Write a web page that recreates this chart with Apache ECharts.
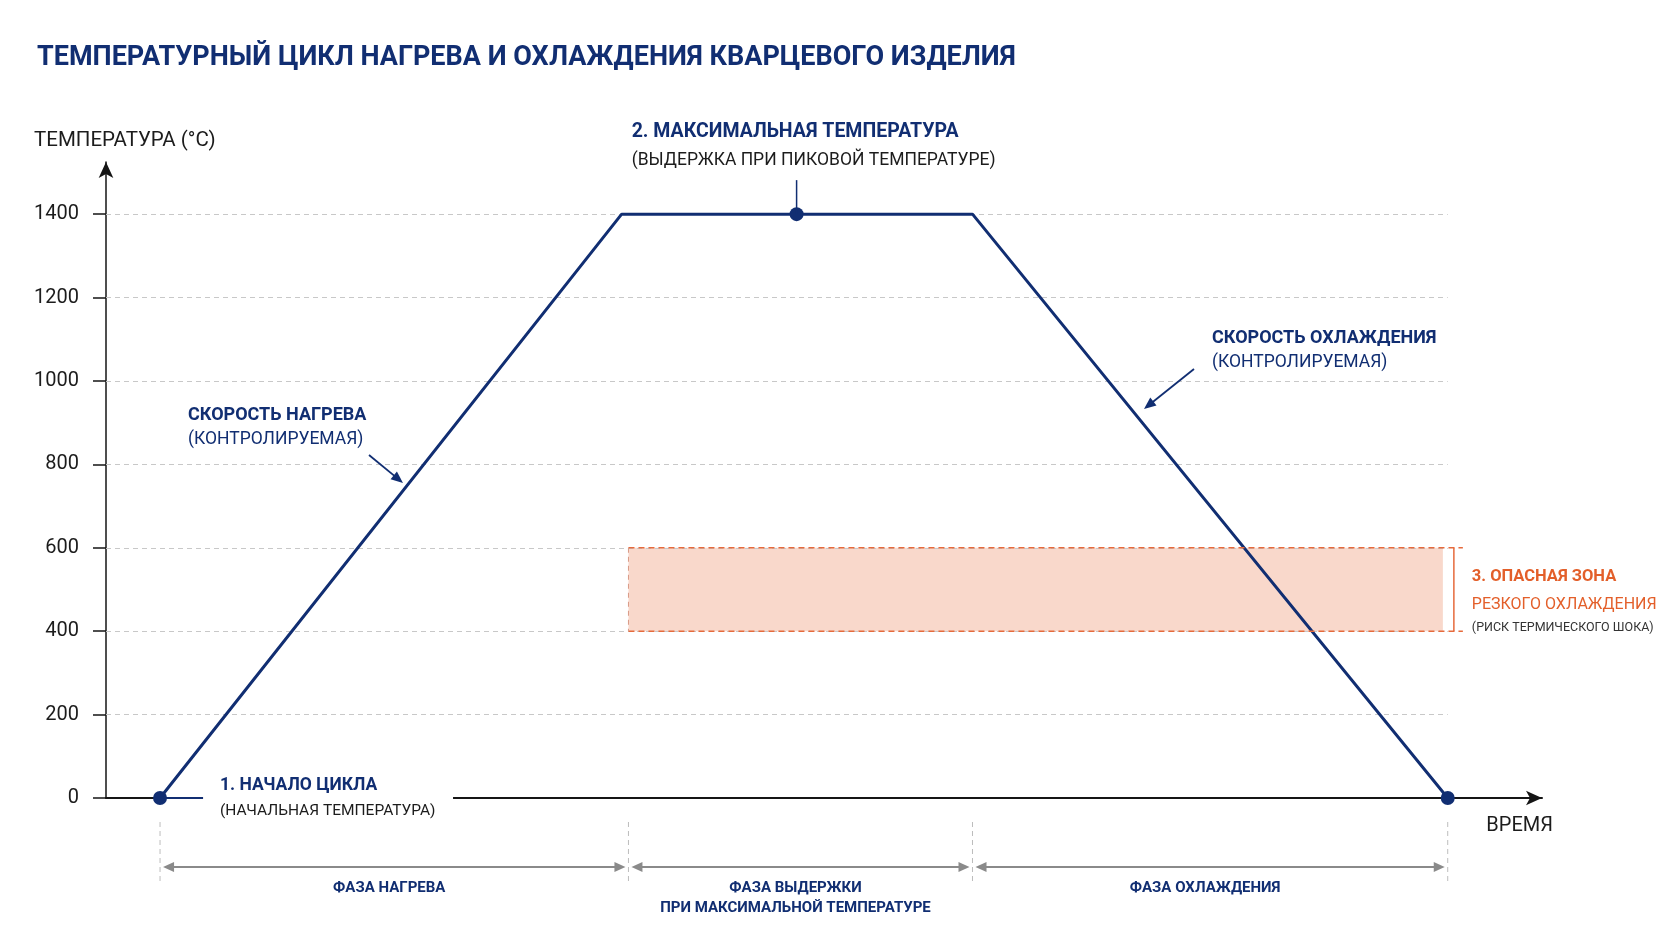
<!DOCTYPE html>
<html>
<head>
<meta charset="utf-8">
<script src="https://cdn.jsdelivr.net/npm/echarts@6/dist/echarts.min.js"></script>
<style>
  html, body { margin: 0; background: #fff; }
  #chart { width: 1672px; height: 941px; }
</style>
</head>
<body>
<div id="chart"></div>
<script>
// температурный цикл кварцевого изделия
const times = [0, 4.75, 6.55, 8.36, 13.25];
const temps = [0, 1400, 1400, 1400, 0];
const dotAt = [true, false, true, false, true];
const yTicks = [0, 200, 400, 600, 800, 1000, 1200, 1400];
const phaseBounds = [0, 4.82, 8.36, 13.25];
const phaseNames = ['ФАЗА НАГРЕВА', 'ФАЗА ВЫДЕРЖКИ\nПРИ МАКСИМАЛЬНОЙ ТЕМПЕРАТУРЕ', 'ФАЗА ОХЛАЖДЕНИЯ'];
const dangerTemps = [400, 600];
const dangerTimes = [4.82, 13.2];

const X_MIN = -0.556, X_MAX = 14.22, Y_MAX = 1525;
const NAVY = '#112e72', ORANGE = '#e35f2a', INK = '#1c1c1c', FONT = 'Roboto';

const chart = echarts.init(document.getElementById('chart'));

const tEnd = times[times.length - 1];
const gridLines = yTicks.filter(v => v > 0).map(v => [{ coord: [X_MIN, v] }, { coord: [tEnd, v] }]);

const option = {
  backgroundColor: '#fff',
  animation: false,
  textStyle: { fontFamily: FONT },
  title: {
    text: 'ТЕМПЕРАТУРНЫЙ ЦИКЛ НАГРЕВА И ОХЛАЖДЕНИЯ КВАРЦЕВОГО ИЗДЕЛИЯ',
    left: 32, top: 40,
    textStyle: { color: NAVY, fontSize: 27, fontWeight: 'bold', fontFamily: FONT }
  },
  grid: { left: 106, right: 130, top: 162, bottom: 143 },
  xAxis: {
    type: 'value', min: X_MIN, max: X_MAX,
    axisLine: { show: true, onZero: false, symbol: ['none', 'arrow'], symbolSize: [11, 16],
      lineStyle: { color: '#151515', width: 2 } },
    axisTick: { show: false }, axisLabel: { show: false }, splitLine: { show: false }
  },
  yAxis: {
    type: 'value', min: 0, max: Y_MAX,
    axisLine: { show: true, onZero: false, symbol: ['none', 'arrow'], symbolSize: [11, 16],
      lineStyle: { color: '#151515', width: 1.5 } },
    axisTick: { show: true, length: 13, customValues: yTicks, lineStyle: { color: '#151515', width: 1.5 } },
    axisLabel: { customValues: yTicks, fontSize: 20, color: INK, margin: 27, fontFamily: FONT,
      formatter: v => String(v) },
    splitLine: { show: false }
  },
  series: [
    {
      type: 'line', z: 1, data: [], silent: true,
      markLine: {
        silent: true, symbol: ['none', 'none'], label: { show: false },
        lineStyle: { color: '#c8c8c8', type: [5, 4], width: 1 },
        data: gridLines
      },
      markArea: {
        silent: true, itemStyle: { color: '#f9d8cb' },
        data: [[{ coord: [dangerTimes[0], dangerTemps[1]] }, { coord: [dangerTimes[1], dangerTemps[0]] }]]
      }
    },
    {
      type: 'line', z: 5, showSymbol: true, showAllSymbol: true, symbolSize: 14,
      itemStyle: { color: NAVY }, lineStyle: { color: NAVY, width: 3 },
      data: times.map((t, i) => ({ value: [t, temps[i]], symbol: dotAt[i] ? 'circle' : 'none' }))
    }
  ]
};
chart.setOption(option);

const px = (x, y) => chart.convertToPixel({ gridIndex: 0 }, [x, y]);

function text(x, y, str, size, color, bold, align) {
  return {
    type: 'text', z: 20, silent: true,
    style: { text: str, x: x, y: y, fill: color, align: align || 'left', verticalAlign: 'middle',
      font: (bold ? 'bold ' : '') + size + 'px ' + FONT }
  };
}
function line(x1, y1, x2, y2, color, width, dash) {
  return { type: 'line', z: 15, silent: true, shape: { x1, y1, x2, y2 },
    style: { stroke: color, lineWidth: width, lineDash: dash || null } };
}
function head(x, y, ang, len, wid, color) {
  const c = Math.cos(ang), s = Math.sin(ang);
  const bx = x - c * len, by = y - s * len;
  return { type: 'polygon', z: 16, silent: true,
    shape: { points: [[x, y], [bx - s * wid / 2, by + c * wid / 2], [bx + s * wid / 2, by - c * wid / 2]] },
    style: { fill: color } };
}
function arrow(x1, y1, x2, y2, color, width, len, wid, both) {
  const ang = Math.atan2(y2 - y1, x2 - x1);
  const c = Math.cos(ang) * len * 0.6, s = Math.sin(ang) * len * 0.6;
  const out = [line(both ? x1 + c : x1, both ? y1 + s : y1, x2 - c, y2 - s, color, width),
    head(x2, y2, ang, len, wid, color)];
  if (both) out.push(head(x1, y1, ang + Math.PI, len, wid, color));
  return out;
}

const g = [];

// подписи осей
g.push(text(34, 141, 'ТЕМПЕРАТУРА (°С)', 20.5, INK, false));
const xEnd = px(X_MAX, 0);
g.push(text(xEnd[0] + 11, xEnd[1] + 28, 'ВРЕМЯ', 20, INK, false, 'right'));

// 1. начало цикла
const p0 = px(times[0], temps[0]);
g.push({ type: 'rect', z: 12, silent: true, shape: { x: p0[0] + 43, y: p0[1] - 22, width: 250, height: 46 }, style: { fill: '#fff' } });
g.push(line(p0[0], p0[1], p0[0] + 43, p0[1], NAVY, 2));
g.push(text(p0[0] + 60, p0[1] - 12, '1. НАЧАЛО ЦИКЛА', 17.5, NAVY, true));
g.push(text(p0[0] + 60, p0[1] + 13, '(НАЧАЛЬНАЯ ТЕМПЕРАТУРА)', 15.5, INK, false));

// 2. максимальная температура
const pk = px(times[2], temps[2]);
const pkStart = px(times[1], temps[1]);
g.push(line(pk[0], pk[1], pk[0], pk[1] - 34, NAVY, 1.5));
g.push(text(pkStart[0] + 10, pk[1] - 82, '2. МАКСИМАЛЬНАЯ ТЕМПЕРАТУРА', 19.5, NAVY, true));
g.push(text(pkStart[0] + 10, pk[1] - 54, '(ВЫДЕРЖКА ПРИ ПИКОВОЙ ТЕМПЕРАТУРЕ)', 17.5, INK, false));

// скорость нагрева / охлаждения
g.push(text(188, 415, 'СКОРОСТЬ НАГРЕВА', 18, NAVY, true));
g.push(text(188, 440, '(КОНТРОЛИРУЕМАЯ)', 17.5, NAVY, false));
g.push(...arrow(369, 455, 403, 483, NAVY, 1.8, 12, 10));
g.push(text(1212, 338, 'СКОРОСТЬ ОХЛАЖДЕНИЯ', 18, NAVY, true));
g.push(text(1212, 363, '(КОНТРОЛИРУЕМАЯ)', 17.5, NAVY, false));
g.push(...arrow(1194, 369, 1144, 409, NAVY, 1.8, 12, 10));

// 3. опасная зона
const zA = px(dangerTimes[0], dangerTemps[1]);
const zB = px(dangerTimes[1], dangerTemps[0]);
const bx = zB[0] + 11;
g.push(line(zA[0], zA[1], bx + 9, zA[1], '#e66a3c', 1.5, [6, 4]));
g.push(line(zA[0], zB[1], bx + 9, zB[1], '#e66a3c', 1.5, [6, 4]));
g.push(line(zA[0], zA[1], zA[0], zB[1], '#d99a86', 1, [5, 4]));
g.push(line(bx, zA[1], bx, zB[1], '#e66a3c', 1.5));
g.push(text(bx + 18, zA[1] + 29, '3. ОПАСНАЯ ЗОНА', 16.5, ORANGE, true));
g.push(text(bx + 18, zA[1] + 57, 'РЕЗКОГО ОХЛАЖДЕНИЯ', 16, ORANGE, false));
g.push(text(bx + 18, zA[1] + 80, '(РИСК ТЕРМИЧЕСКОГО ШОКА)', 12.5, '#333', false));

// фазы
const phaseY = p0[1] + 69;
const bxs = phaseBounds.map(t => px(t, 0)[0]);
bxs.forEach(x => g.push(line(x, p0[1] + 24, x, p0[1] + 84, '#bdbdbd', 1, [5, 4])));
phaseNames.forEach((name, i) => {
  g.push(...arrow(bxs[i] + 3, phaseY, bxs[i + 1] - 3, phaseY, '#8a8a8a', 2, 11, 10, true));
  g.push({ type: 'text', z: 20, silent: true, style: {
    text: name, x: (bxs[i] + bxs[i + 1]) / 2 - 5, y: phaseY + 11, fill: NAVY, align: 'center', verticalAlign: 'top',
    font: 'bold 15px ' + FONT, lineHeight: 20 } });
});

chart.setOption({ graphic: { elements: g } });
</script>
</body>
</html>
